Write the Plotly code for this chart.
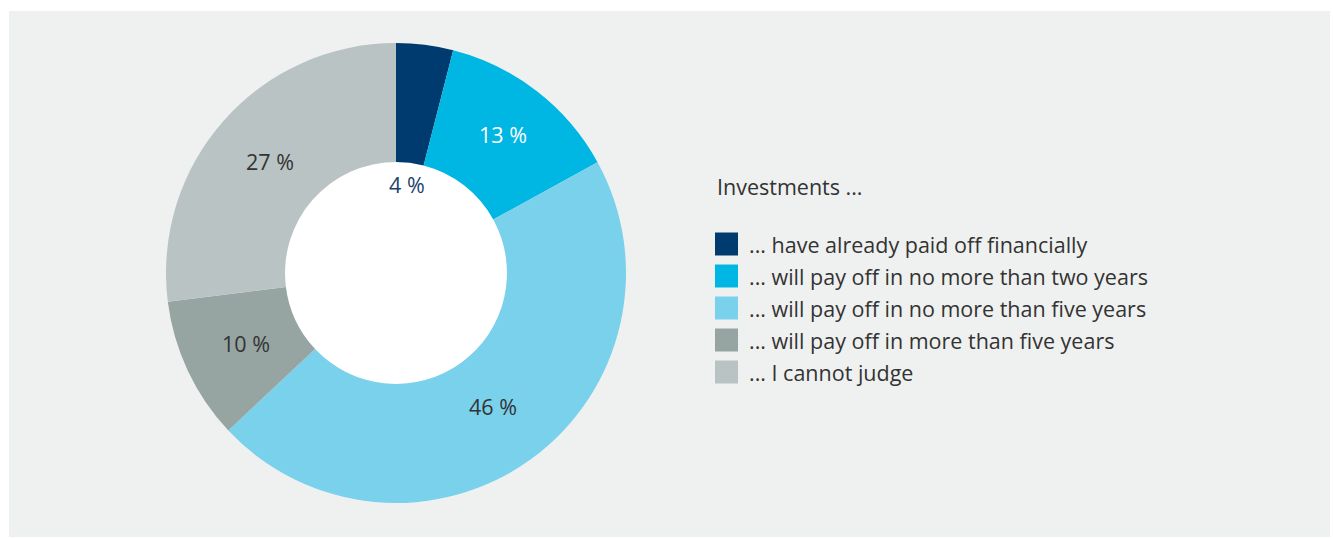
import math
import plotly.graph_objects as go

# Survey answers: when do the investments pay off?
categories = [
    "... have already paid off financially",
    "... will pay off in no more than two years",
    "... will pay off in no more than five years",
    "... will pay off in more than five years",
    "... I cannot judge",
]
values = [4, 13, 46, 10, 27]
legend_title = "Investments ..."

colors = ["#003b6f", "#00b6e2", "#7ad1ec", "#97a5a2", "#b9c3c3"]
label_colors = ["#1d3f6e", "#ffffff", "#333333", "#333333", "#333333"]
# radial position of each percentage label (fraction of outer radius)
label_radius = [0.39, 0.76, 0.72, 0.72, 0.73]

W, H = 1333, 539
CX, CY, R = 396, 273, 230
HOLE_R = 111
FONT = "Open Sans"
FS = 21.5

fig = go.Figure()
fig.add_trace(go.Pie(
    values=values,
    labels=categories,
    marker=dict(colors=colors, line=dict(width=0)),
    hole=HOLE_R / R,
    sort=False,
    direction="clockwise",
    rotation=0,
    textinfo="none",
    hoverinfo="label+percent",
    showlegend=False,
    domain=dict(x=[(CX - R) / W, (CX + R) / W], y=[1 - (CY + R) / H, 1 - (CY - R) / H]),
))

shapes = [
    # grey panel
    dict(type="rect", xref="paper", yref="paper", layer="below",
         x0=9 / W, x1=1330 / W, y0=1 - 537 / H, y1=1 - 11 / H,
         fillcolor="#eff1f0", line=dict(width=0)),
    # white centre of the donut
    dict(type="circle", xref="paper", yref="paper", layer="below",
         x0=(CX - HOLE_R) / W, x1=(CX + HOLE_R) / W,
         y0=1 - (CY + HOLE_R) / H, y1=1 - (CY - HOLE_R) / H,
         fillcolor="#ffffff", line=dict(width=0)),
]

annotations = []
total = sum(values)
cum = 0
for v, c, rf in zip(values, label_colors, label_radius):
    mid = (cum + v / 2) / total * 2 * math.pi
    cum += v
    r = rf * R
    px = CX + r * math.sin(mid)
    py = CY - r * math.cos(mid)
    annotations.append(dict(
        x=px / W, y=1 - py / H, xref="paper", yref="paper",
        text=f"{v} %", showarrow=False, xanchor="center", yanchor="middle",
        font=dict(family=FONT, size=FS, color=c),
    ))

# legend
LX, LY0, STEP, SW = 715, 244, 32, 23
annotations.append(dict(
    x=LX / W, y=1 - 186 / H, xref="paper", yref="paper",
    text=legend_title, showarrow=False, xanchor="left", yanchor="middle",
    font=dict(family=FONT, size=FS, color="#333333"),
))
for i, (cat, col) in enumerate(zip(categories, colors)):
    yc = LY0 + i * STEP
    shapes.append(dict(
        type="rect", xref="paper", yref="paper",
        x0=LX / W, x1=(LX + SW) / W,
        y0=1 - (yc + SW / 2) / H, y1=1 - (yc - SW / 2) / H,
        fillcolor=col, line=dict(width=0),
    ))
    annotations.append(dict(
        x=(LX + 32) / W, y=1 - yc / H, xref="paper", yref="paper",
        text=cat, showarrow=False, xanchor="left", yanchor="middle",
        font=dict(family=FONT, size=FS, color="#333333"),
    ))

fig.update_layout(
    width=W, height=H,
    margin=dict(l=0, r=0, t=0, b=0),
    paper_bgcolor="#ffffff",
    plot_bgcolor="#ffffff",
    shapes=shapes,
    annotations=annotations,
    showlegend=False,
)

fig.write_html("out.html")
